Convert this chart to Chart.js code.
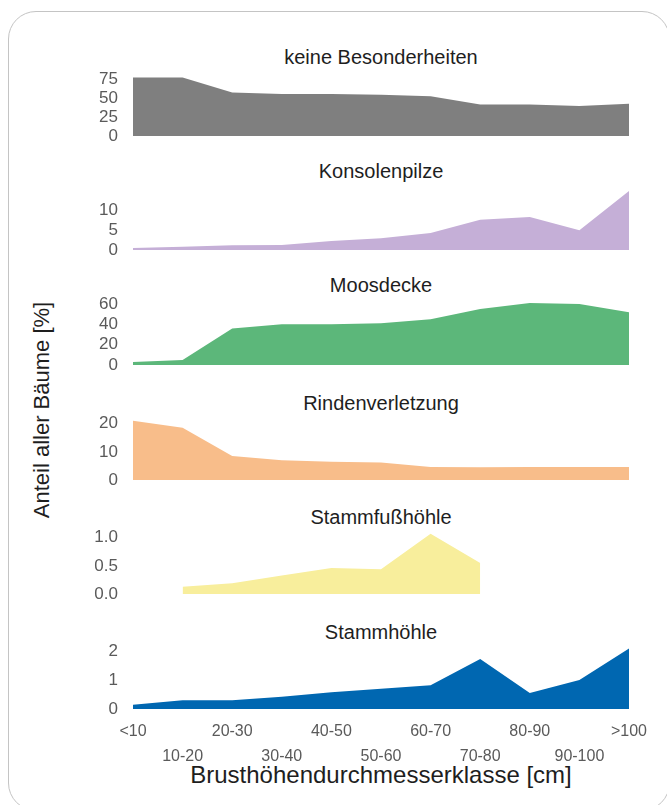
<!DOCTYPE html>
<html>
<head>
<meta charset="utf-8">
<script src="https://cdn.jsdelivr.net/npm/chart.js@4.4.1/dist/chart.umd.min.js"></script>
<style>
  html, body { margin: 0; padding: 0; background: #fff; overflow: hidden; }
  body { width: 667px; height: 805px; position: relative; font-family: 'Liberation Sans', Arial, sans-serif; }
  .frame {
    position: absolute; left: 8px; top: 11px; width: 662px; height: 800px;
    border: 1.5px solid #c4c4c4; border-radius: 28px; box-sizing: border-box;
  }
  .panel-title {
    position: absolute; left: 133px; width: 496px; text-align: center;
    font-size: 20px; color: #1e1e1e; line-height: 22px;
  }
  .x-title {
    position: absolute; left: 133px; width: 496px; text-align: center; top: 761px;
    font-size: 24px; color: #1e1e1e; line-height: 28px;
  }
  .y-title {
    position: absolute; left: 42px; top: 410px; white-space: nowrap;
    font-size: 22px; color: #1e1e1e; line-height: 26px;
    transform: translate(-50%, -50%) rotate(-90deg);
  }
  canvas { position: absolute; }
</style>
</head>
<body>
<div class="frame"></div>
<div class="y-title">Anteil aller Bäume [%]</div>
<div class="x-title">Brusthöhendurchmesserklasse [cm]</div>

<script>
// Diameter classes (x axis)
const categories = ['<10', '10-20', '20-30', '30-40', '40-50', '50-60', '60-70', '70-80', '80-90', '90-100', '>100'];

// Share of all trees [%] per class
const valKeine      = [78, 78, 58, 56, 56, 55, 53, 42, 42, 40, 43];
const valKonsolen   = [0.5, 0.8, 1.2, 1.3, 2.3, 3, 4.3, 7.7, 8.4, 5, 15];
const valMoos       = [3, 5, 36, 40, 40, 41, 45, 55, 61, 60, 52];
const valRinden     = [21, 18.5, 8.5, 7, 6.5, 6.2, 4.6, 4.5, 4.6, 4.6, 4.6];
const valStammfuss  = [null, 0.13, 0.19, 0.33, 0.46, 0.44, 1.07, 0.55, null, null, null];
const valStammhoehle = [0.15, 0.3, 0.3, 0.42, 0.58, 0.7, 0.82, 1.72, 0.55, 1.0, 2.08];

// y tick values shown in each panel
const ticksKeine      = [0, 25, 50, 75];
const ticksKonsolen   = [0, 5, 10];
const ticksMoos       = [0, 20, 40, 60];
const ticksRinden     = [0, 10, 20];
const ticksStammfuss  = [0, 0.5, 1.0];
const ticksStammhoehle = [0, 1, 2];

const titles = ['keine Besonderheiten', 'Konsolenpilze', 'Moosdecke', 'Rindenverletzung', 'Stammfußhöhle', 'Stammhöhle'];

// panel setup: colour, axis max, tick decimals, plot area top/bottom and title position
const panels = [
    { values: valKeine,       ticks: ticksKeine,       color: '#7f7f7f', max: 80,  dec: 0, top: 76,  bottom: 136, titleY: 57 },
    { values: valKonsolen,    ticks: ticksKonsolen,    color: '#c5afd7', max: 15,  dec: 0, top: 191, bottom: 250, titleY: 171 },
    { values: valMoos,        ticks: ticksMoos,        color: '#5cb77a', max: 62,  dec: 0, top: 302, bottom: 365, titleY: 285 },
    { values: valRinden,      ticks: ticksRinden,      color: '#f8bd8a', max: 22,  dec: 0, top: 418, bottom: 480, titleY: 403 },
    { values: valStammfuss,   ticks: ticksStammfuss,   color: '#f8ee9c', max: 1.1, dec: 1, top: 532, bottom: 594, titleY: 517 },
    { values: valStammhoehle, ticks: ticksStammhoehle, color: '#0067b1', max: 2.1, dec: 0, top: 648, bottom: 709, titleY: 632 }
];

const CANVAS_LEFT = 40;
const AREA_LEFT = 133;
const AREA_RIGHT = 629;
const PAD = 12;
const PAD_RIGHT = 30;
const X_AXIS_H = 60;
const tickColor = '#5a5a5a';

Chart.defaults.font.family = "'Liberation Sans', Arial, sans-serif";

panels.forEach((p, i) => {
    const isLast = i === panels.length - 1;

    // title
    const t = document.createElement('div');
    t.className = 'panel-title';
    t.style.top = (p.titleY - 11) + 'px';
    t.textContent = titles[i];
    document.body.appendChild(t);

    // canvas
    const c = document.createElement('canvas');
    c.width = AREA_RIGHT - CANVAS_LEFT + PAD_RIGHT;
    c.height = (p.bottom - p.top) + PAD + (isLast ? X_AXIS_H : PAD);
    c.style.left = CANVAS_LEFT + 'px';
    c.style.top = (p.top - PAD) + 'px';
    document.body.appendChild(c);

    const xScale = {
        display: isLast,
        offset: false,
        grid: { display: false, drawTicks: false },
        border: { display: false },
        ticks: {
            autoSkip: false,
            maxRotation: 0,
            minRotation: 0,
            padding: 10,
            color: tickColor,
            font: { size: 16, lineHeight: 1.55 },
            // alternate labels between two rows
            callback: (v, idx) => idx % 2 === 0 ? [categories[idx], ''] : ['', categories[idx]]
        }
    };
    if (isLast) xScale.afterFit = s => { s.height = X_AXIS_H; s.paddingLeft = 0; };

    new Chart(c.getContext('2d'), {
        type: 'line',
        data: {
            labels: categories,
            datasets: [{
                data: p.values,
                backgroundColor: p.color,
                borderWidth: 0,
                pointRadius: 0,
                fill: 'origin',
                tension: 0,
                spanGaps: false
            }]
        },
        options: {
            responsive: false,
            animation: false,
            devicePixelRatio: 1,
            layout: { padding: { top: PAD, bottom: isLast ? 0 : PAD, left: 0, right: PAD_RIGHT } },
            plugins: { legend: { display: false }, tooltip: { enabled: false } },
            scales: {
                x: xScale,
                y: {
                    min: 0,
                    max: p.max,
                    grid: { display: false, drawTicks: false },
                    border: { display: false },
                    ticks: {
                        autoSkip: false,
                        padding: 15,
                        color: tickColor,
                        font: { size: 17 },
                        callback: v => v.toFixed(p.dec)
                    },
                    afterBuildTicks: s => { s.ticks = p.ticks.map(v => ({ value: v })); },
                    afterFit: s => {
                        s.width = AREA_LEFT - CANVAS_LEFT;
                        s.paddingTop = 0;
                        s.paddingBottom = 0;
                    }
                }
            }
        }
    });
});
</script>
</body>
</html>
